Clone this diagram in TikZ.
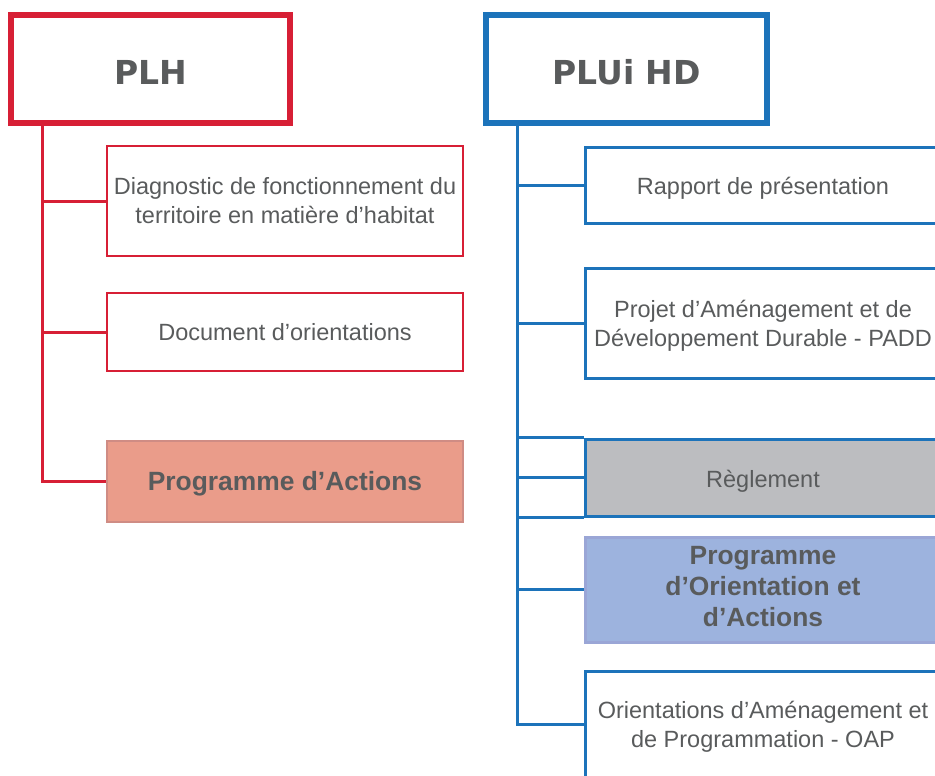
\documentclass[tikz,border=0pt]{standalone}
\usepackage{fontspec}
\setmainfont{Liberation Sans}
\newfontfamily\titlefont{DejaVu Sans}
\definecolor{plhred}{HTML}{D71F35}
\definecolor{pluiblue}{HTML}{1C73BA}
\definecolor{txtgrey}{HTML}{595B5C}
\definecolor{pafill}{HTML}{EA9C8A}
\definecolor{padraw}{HTML}{CF8C84}
\definecolor{regfill}{HTML}{BCBDC0}
\definecolor{poafill}{HTML}{9DB3DE}
\definecolor{poadraw}{HTML}{9AA6D6}
\begin{document}
\begin{tikzpicture}[x=1pt,y=-1pt,
  titlebox/.style={draw, line width=6pt, rectangle, minimum height=108pt, inner sep=0pt,
    font=\titlefont\bfseries\fontsize{33}{36}\selectfont, text=txtgrey, text height=30.5pt, text depth=0pt},
  subbox/.style={draw, line width=2.6pt, rectangle, minimum width=356pt, inner sep=0pt, align=center,
    font=\fontsize{23.5}{29}\selectfont, text=txtgrey},
  boldtxt/.style={font=\bfseries\fontsize{26.4}{31}\selectfont},
  conn/.style={line width=3pt},
]
\clip (0,0) rectangle (935,776);
% Titles
\node[titlebox, draw=plhred, minimum width=279pt] (plh) at (150.5,69) {PLH};
\node[titlebox, draw=pluiblue, minimum width=281pt] (plui) at (626.5,69) {PLUi HD};
% Left boxes
\node[subbox, draw=plhred, minimum height=110pt] (b1) at (285,201) {Diagnostic de fonctionnement du\\territoire en matière d’habitat};
\node[subbox, draw=plhred, minimum height=78pt] (b2) at (285,332) {Document d’orientations};
\node[subbox, boldtxt, draw=padraw, fill=pafill, minimum height=81pt, text depth=2pt] (b3) at (285,481.5) {Programme d’Actions};
% Right boxes
\node[subbox, draw=pluiblue, line width=3pt, minimum height=76pt, text height=18pt, text depth=0pt] (r1) at (763,185) {Rapport de présentation};
\node[subbox, draw=pluiblue, line width=3pt, minimum height=110pt, text depth=0pt] (r2) at (763,323) {Projet d’Aménagement et de\\Développement Durable - PADD};
\node[subbox, draw=pluiblue, fill=regfill, line width=3pt, minimum height=77pt, text height=20pt, text depth=0pt] (reg) at (763,477.5) {Règlement};
\node[subbox, boldtxt, draw=poadraw, fill=poafill, line width=3pt, minimum height=105pt, text depth=6pt] (poa) at (763,589.5) {Programme\\d’Orientation et\\d’Actions};
\node[subbox, draw=pluiblue, line width=3pt, minimum height=106pt, text depth=0pt] (oap) at (763,724) {Orientations d’Aménagement et\\de Programmation - OAP};
% Left connectors
\coordinate (lt) at (42,123);
\draw[conn, plhred] (lt) |- (b3.west);
\draw[conn, plhred] (b1.west) -- (b1.west -| lt);
\draw[conn, plhred] (b2.west) -- (b2.west -| lt);
% Right connectors
\coordinate (rt) at (517,123);
\draw[conn, pluiblue] (rt) |- (oap.west);
\draw[conn, pluiblue] (r1.west) -- (r1.west -| rt);
\draw[conn, pluiblue] (r2.west) -- (r2.west -| rt);
\draw[conn, pluiblue] (reg.north west) -- (reg.north west -| rt);
\draw[conn, pluiblue] (reg.west) -- (reg.west -| rt);
\draw[conn, pluiblue] (reg.south west) -- (reg.south west -| rt);
\draw[conn, pluiblue] (poa.west) -- (poa.west -| rt);
\end{tikzpicture}
\end{document}
